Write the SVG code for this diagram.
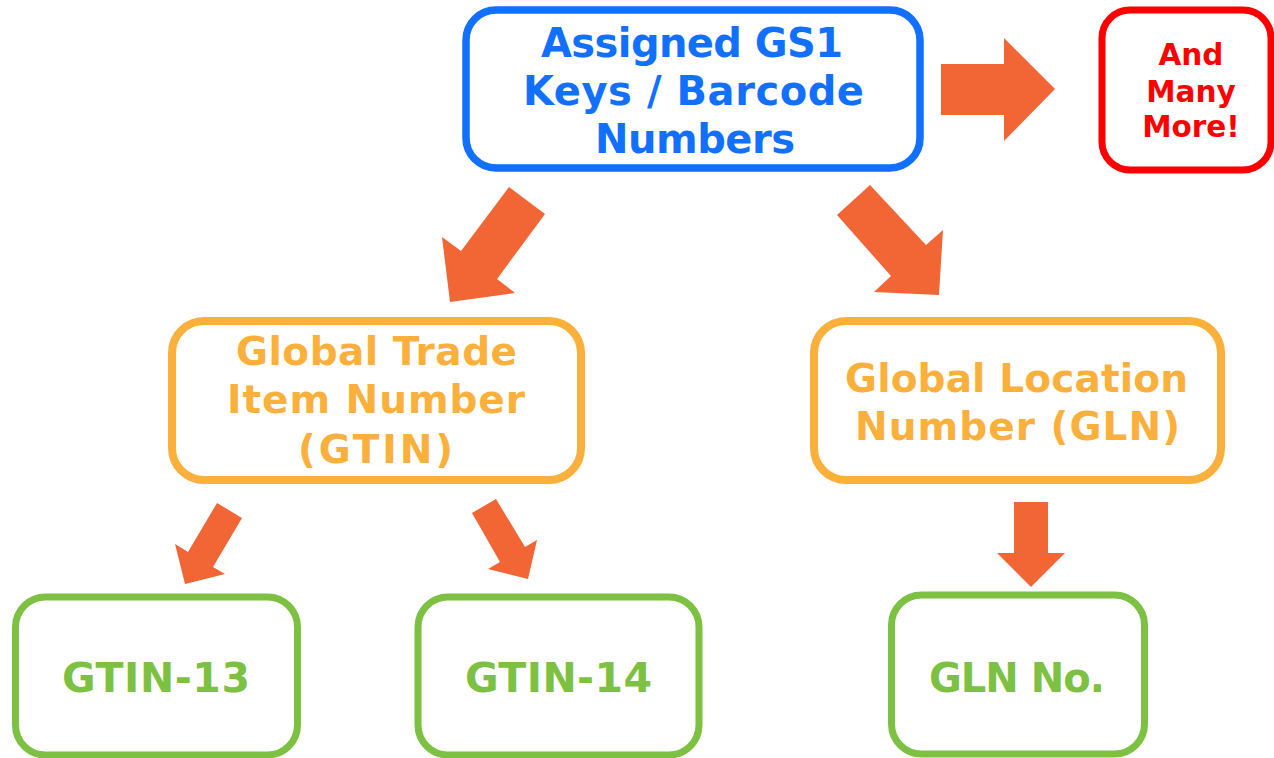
<svg xmlns="http://www.w3.org/2000/svg" width="1274" height="758" viewBox="0 0 1274 758">
<style>
.box{fill:#fff;}
.t{font-family:"DejaVu Sans","Verdana",sans-serif;font-weight:bold;text-anchor:middle;}
.arrow{fill:#F26535;}
</style>
<rect width="1274" height="758" fill="#fff"/>
<g id="connectors">
<polygon class="arrow" points="941,64 1004,64 1004,38 1055,89 1004,141 1004,115 941,115"/>
<polygon class="arrow" points="509,187 545,214 497,279 515,293 450,302 442,237 461,251"/>
<polygon class="arrow" points="870,185 926,245 943,230 939,295 874,292 891,276 837,215"/>
<polygon class="arrow" points="217,503 242,518 213,567 225,574 185,584 175,544 188,552"/>
<polygon class="arrow" points="496,499 525,547 537,540 528,579 488,569 500,562 472,513"/>
<polygon class="arrow" points="1014,502 1048,502 1048,553 1065,553 1031,587 997,553 1014,553"/>
</g>
<g id="node-gs1">
<rect class="box" x="466" y="10" width="454" height="158" rx="30" fill="#fff" stroke="#1170FF" stroke-width="7.5"/>
<text class="t" fill="#1170FF" font-size="40"><tspan x="692" y="57" textLength="302" lengthAdjust="spacing">Assigned GS1</tspan><tspan x="693.5" y="105" textLength="341" lengthAdjust="spacing">Keys / Barcode</tspan><tspan x="695" y="153" textLength="200" lengthAdjust="spacing">Numbers</tspan></text>
</g>
<g id="node-more">
<rect class="box" x="1102" y="10" width="169" height="160" rx="28" fill="#fff" stroke="#FF0000" stroke-width="7"/>
<text class="t" fill="#FF0000" font-size="29.5"><tspan x="1191" y="65">And</tspan><tspan x="1191" y="102">Many</tspan><tspan x="1191" y="137">More!</tspan></text>
</g>
<g id="node-gtin">
<rect class="box" x="172" y="321" width="409" height="159" rx="32" fill="#fff" stroke="#FBB03B" stroke-width="8"/>
<text class="t" fill="#FBB03B" font-size="39"><tspan x="376.5" y="365" textLength="281" lengthAdjust="spacing">Global Trade</tspan><tspan x="376" y="413" textLength="298" lengthAdjust="spacing">Item Number</tspan><tspan x="375.5" y="463" textLength="155" lengthAdjust="spacing">(GTIN)</tspan></text>
</g>
<g id="node-gln">
<rect class="box" x="814" y="321" width="407" height="159" rx="32" fill="#fff" stroke="#FBB03B" stroke-width="8"/>
<text class="t" fill="#FBB03B" font-size="39"><tspan x="1016.5" y="392" textLength="343" lengthAdjust="spacing">Global Location</tspan><tspan x="1017.5" y="440" textLength="325" lengthAdjust="spacing">Number (GLN)</tspan></text>
</g>
<g id="node-gtin13">
<rect class="box" x="15.5" y="597" width="282" height="158" rx="30" fill="#fff" stroke="#7DC142" stroke-width="7"/>
<text class="t" fill="#7DC142" font-size="41" x="156" y="692" textLength="188" lengthAdjust="spacing">GTIN-13</text>
</g>
<g id="node-gtin14">
<rect class="box" x="418" y="597" width="281" height="158" rx="30" fill="#fff" stroke="#7DC142" stroke-width="7"/>
<text class="t" fill="#7DC142" font-size="41" x="558.5" y="692" textLength="187" lengthAdjust="spacing">GTIN-14</text>
</g>
<g id="node-glnno">
<rect class="box" x="891.5" y="595" width="253" height="159" rx="30" fill="#fff" stroke="#7DC142" stroke-width="7"/>
<text class="t" fill="#7DC142" font-size="40" x="1017" y="692" textLength="176" lengthAdjust="spacing">GLN No.</text>
</g>
</svg>
